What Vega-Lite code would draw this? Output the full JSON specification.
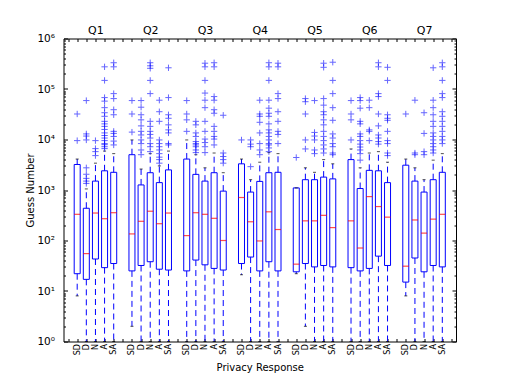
{
  "$schema": "https://vega.github.io/schema/vega-lite/v6.json",
  "width": 392.5,
  "height": 303,
  "autosize": {"type": "none"},
  "padding": {"left": 63.5, "top": 38.5, "right": 50, "bottom": 38.5},
  "config": {
    "font": "DejaVu Sans",
    "view": {"stroke": "#000000", "strokeWidth": 1},
    "axis": {"domain": false, "grid": false, "tickColor": "#000000", "labelColor": "#000000", "titleColor": "#000000", "titleFontWeight": "normal", "labelFont": "DejaVu Sans", "titleFont": "DejaVu Sans", "labelOverlap": false, "tickWidth": 1}
  },
  "datasets": {
    "boxes": [
      {"k": "Q1|SD", "lo": 8, "q1": 22, "med": 330, "q3": 3200, "hi": 4100},
      {"k": "Q1|D", "lo": 1, "q1": 17, "med": 55, "q3": 435, "hi": 1050},
      {"k": "Q1|N", "lo": 1, "q1": 43, "med": 350, "q3": 1500, "hi": 3400},
      {"k": "Q1|A", "lo": 1, "q1": 29, "med": 270, "q3": 2400, "hi": 5900},
      {"k": "Q1|SA", "lo": 1, "q1": 35, "med": 355, "q3": 2240, "hi": 5250},
      {"k": "Q2|SD", "lo": 2, "q1": 25, "med": 135, "q3": 5000, "hi": 9800},
      {"k": "Q2|D", "lo": 1, "q1": 32, "med": 240, "q3": 1260, "hi": 2600},
      {"k": "Q2|N", "lo": 1, "q1": 38, "med": 380, "q3": 2200, "hi": 5250},
      {"k": "Q2|A", "lo": 1, "q1": 27, "med": 215, "q3": 1400, "hi": 3000},
      {"k": "Q2|SA", "lo": 1, "q1": 26, "med": 350, "q3": 2500, "hi": 5900},
      {"k": "Q3|SD", "lo": 1, "q1": 25, "med": 125, "q3": 4100, "hi": 9800},
      {"k": "Q3|D", "lo": 1, "q1": 41, "med": 355, "q3": 2040, "hi": 5000},
      {"k": "Q3|N", "lo": 1, "q1": 33, "med": 330, "q3": 1500, "hi": 2750},
      {"k": "Q3|A", "lo": 1, "q1": 28, "med": 275, "q3": 2200, "hi": 5400},
      {"k": "Q3|SA", "lo": 1, "q1": 26, "med": 100, "q3": 950, "hi": 2200},
      {"k": "Q4|SD", "lo": 21, "q1": 35, "med": 710, "q3": 3300, "hi": 4100},
      {"k": "Q4|D", "lo": 1, "q1": 47, "med": 235, "q3": 910, "hi": 1600},
      {"k": "Q4|N", "lo": 1, "q1": 25, "med": 98, "q3": 1480, "hi": 3550},
      {"k": "Q4|A", "lo": 1, "q1": 38, "med": 370, "q3": 2200, "hi": 5500},
      {"k": "Q4|SA", "lo": 1, "q1": 25, "med": 165, "q3": 2240, "hi": 5250},
      {"k": "Q5|SD", "lo": 22, "q1": 24, "med": 34, "q3": 1100, "hi": 1100},
      {"k": "Q5|D", "lo": 2, "q1": 35, "med": 245, "q3": 1600, "hi": 2750},
      {"k": "Q5|N", "lo": 1, "q1": 30, "med": 245, "q3": 1600, "hi": 2240},
      {"k": "Q5|A", "lo": 1, "q1": 32, "med": 315, "q3": 1800, "hi": 4000},
      {"k": "Q5|SA", "lo": 1, "q1": 30, "med": 180, "q3": 1660, "hi": 3300},
      {"k": "Q6|SD", "lo": 1, "q1": 29, "med": 245, "q3": 4000, "hi": 6500},
      {"k": "Q6|D", "lo": 1, "q1": 25, "med": 71, "q3": 1070, "hi": 2750},
      {"k": "Q6|N", "lo": 1, "q1": 28, "med": 740, "q3": 2450, "hi": 5400},
      {"k": "Q6|A", "lo": 1, "q1": 49, "med": 470, "q3": 2400, "hi": 5750},
      {"k": "Q6|SA", "lo": 1, "q1": 32, "med": 290, "q3": 1400, "hi": 3550},
      {"k": "Q7|SD", "lo": 8, "q1": 15, "med": 31, "q3": 3100, "hi": 4100},
      {"k": "Q7|D", "lo": 1, "q1": 45, "med": 255, "q3": 1500, "hi": 2750},
      {"k": "Q7|N", "lo": 1, "q1": 24, "med": 140, "q3": 910, "hi": 1600},
      {"k": "Q7|A", "lo": 1, "q1": 32, "med": 265, "q3": 1600, "hi": 3900},
      {"k": "Q7|SA", "lo": 1, "q1": 30, "med": 330, "q3": 2240, "hi": 5250}
    ],
    "out": [
      {"k": "Q1|SD", "v": 32000}, {"k": "Q1|SD", "v": 9500},
      {"k": "Q1|D", "v": 59000}, {"k": "Q1|D", "v": 12900}, {"k": "Q1|D", "v": 11700}, {"k": "Q1|D", "v": 9800}, {"k": "Q1|D", "v": 2750}, {"k": "Q1|D", "v": 2050}, {"k": "Q1|D", "v": 1700}, {"k": "Q1|D", "v": 1500}, {"k": "Q1|D", "v": 1350},
      {"k": "Q1|N", "v": 9500}, {"k": "Q1|N", "v": 6600}, {"k": "Q1|N", "v": 5750}, {"k": "Q1|N", "v": 4800},
      {"k": "Q1|A", "v": 275000}, {"k": "Q1|A", "v": 148000}, {"k": "Q1|A", "v": 67600}, {"k": "Q1|A", "v": 57500}, {"k": "Q1|A", "v": 42700}, {"k": "Q1|A", "v": 33900}, {"k": "Q1|A", "v": 28800}, {"k": "Q1|A", "v": 22900}, {"k": "Q1|A", "v": 20400}, {"k": "Q1|A", "v": 18200}, {"k": "Q1|A", "v": 15800}, {"k": "Q1|A", "v": 13500}, {"k": "Q1|A", "v": 12000}, {"k": "Q1|A", "v": 10700}, {"k": "Q1|A", "v": 9500}, {"k": "Q1|A", "v": 8300}, {"k": "Q1|A", "v": 7900}, {"k": "Q1|A", "v": 7200}, {"k": "Q1|A", "v": 6600},
      {"k": "Q1|SA", "v": 331000}, {"k": "Q1|SA", "v": 275000}, {"k": "Q1|SA", "v": 81000}, {"k": "Q1|SA", "v": 64600}, {"k": "Q1|SA", "v": 38900}, {"k": "Q1|SA", "v": 30900}, {"k": "Q1|SA", "v": 14500}, {"k": "Q1|SA", "v": 13200}, {"k": "Q1|SA", "v": 11500}, {"k": "Q1|SA", "v": 9300}, {"k": "Q1|SA", "v": 7800},
      {"k": "Q2|SD", "v": 59000}, {"k": "Q2|SD", "v": 32000}, {"k": "Q2|SD", "v": 14000},
      {"k": "Q2|D", "v": 59000}, {"k": "Q2|D", "v": 43600}, {"k": "Q2|D", "v": 30900}, {"k": "Q2|D", "v": 24500}, {"k": "Q2|D", "v": 18600}, {"k": "Q2|D", "v": 14500}, {"k": "Q2|D", "v": 12300}, {"k": "Q2|D", "v": 9800}, {"k": "Q2|D", "v": 8300}, {"k": "Q2|D", "v": 6200}, {"k": "Q2|D", "v": 5000},
      {"k": "Q2|N", "v": 331000}, {"k": "Q2|N", "v": 288000}, {"k": "Q2|N", "v": 257000}, {"k": "Q2|N", "v": 148000}, {"k": "Q2|N", "v": 81000}, {"k": "Q2|N", "v": 22900}, {"k": "Q2|N", "v": 18200}, {"k": "Q2|N", "v": 14500}, {"k": "Q2|N", "v": 12600}, {"k": "Q2|N", "v": 10700}, {"k": "Q2|N", "v": 8300}, {"k": "Q2|N", "v": 7200}, {"k": "Q2|N", "v": 5750},
      {"k": "Q2|A", "v": 60000}, {"k": "Q2|A", "v": 35500}, {"k": "Q2|A", "v": 22900}, {"k": "Q2|A", "v": 9800}, {"k": "Q2|A", "v": 8300}, {"k": "Q2|A", "v": 7200}, {"k": "Q2|A", "v": 6200}, {"k": "Q2|A", "v": 5250}, {"k": "Q2|A", "v": 4470}, {"k": "Q2|A", "v": 4000}, {"k": "Q2|A", "v": 3400},
      {"k": "Q2|SA", "v": 263000}, {"k": "Q2|SA", "v": 67600}, {"k": "Q2|SA", "v": 30900}, {"k": "Q2|SA", "v": 26300}, {"k": "Q2|SA", "v": 19500}, {"k": "Q2|SA", "v": 15500}, {"k": "Q2|SA", "v": 13500}, {"k": "Q2|SA", "v": 8300}, {"k": "Q2|SA", "v": 7800},
      {"k": "Q3|SD", "v": 59000}, {"k": "Q3|SD", "v": 32000}, {"k": "Q3|SD", "v": 24500}, {"k": "Q3|SD", "v": 14500},
      {"k": "Q3|D", "v": 22900}, {"k": "Q3|D", "v": 19500}, {"k": "Q3|D", "v": 13500}, {"k": "Q3|D", "v": 11500}, {"k": "Q3|D", "v": 9100}, {"k": "Q3|D", "v": 8300}, {"k": "Q3|D", "v": 7800}, {"k": "Q3|D", "v": 7200}, {"k": "Q3|D", "v": 6200}, {"k": "Q3|D", "v": 5500},
      {"k": "Q3|N", "v": 324000}, {"k": "Q3|N", "v": 275000}, {"k": "Q3|N", "v": 148000}, {"k": "Q3|N", "v": 83000}, {"k": "Q3|N", "v": 60000}, {"k": "Q3|N", "v": 42700}, {"k": "Q3|N", "v": 22900}, {"k": "Q3|N", "v": 14500}, {"k": "Q3|N", "v": 10200}, {"k": "Q3|N", "v": 8700}, {"k": "Q3|N", "v": 7200}, {"k": "Q3|N", "v": 5500},
      {"k": "Q3|A", "v": 331000}, {"k": "Q3|A", "v": 275000}, {"k": "Q3|A", "v": 70800}, {"k": "Q3|A", "v": 60000}, {"k": "Q3|A", "v": 38900}, {"k": "Q3|A", "v": 33100}, {"k": "Q3|A", "v": 18200}, {"k": "Q3|A", "v": 14500}, {"k": "Q3|A", "v": 11500}, {"k": "Q3|A", "v": 10200}, {"k": "Q3|A", "v": 7800},
      {"k": "Q3|SA", "v": 30200}, {"k": "Q3|SA", "v": 5400}, {"k": "Q3|SA", "v": 4600}, {"k": "Q3|SA", "v": 4000}, {"k": "Q3|SA", "v": 3400},
      {"k": "Q4|SD", "v": 9800},
      {"k": "Q4|D", "v": 9800}, {"k": "Q4|D", "v": 8100}, {"k": "Q4|D", "v": 7200}, {"k": "Q4|D", "v": 2900},
      {"k": "Q4|N", "v": 60000}, {"k": "Q4|N", "v": 32000}, {"k": "Q4|N", "v": 28800}, {"k": "Q4|N", "v": 21900}, {"k": "Q4|N", "v": 13500}, {"k": "Q4|N", "v": 8300}, {"k": "Q4|N", "v": 6200}, {"k": "Q4|N", "v": 5000},
      {"k": "Q4|A", "v": 331000}, {"k": "Q4|A", "v": 275000}, {"k": "Q4|A", "v": 148000}, {"k": "Q4|A", "v": 60000}, {"k": "Q4|A", "v": 41700}, {"k": "Q4|A", "v": 33100}, {"k": "Q4|A", "v": 28800}, {"k": "Q4|A", "v": 20400}, {"k": "Q4|A", "v": 15500}, {"k": "Q4|A", "v": 13500}, {"k": "Q4|A", "v": 11500}, {"k": "Q4|A", "v": 9800}, {"k": "Q4|A", "v": 8300}, {"k": "Q4|A", "v": 7800}, {"k": "Q4|A", "v": 6800}, {"k": "Q4|A", "v": 5750},
      {"k": "Q4|SA", "v": 324000}, {"k": "Q4|SA", "v": 275000}, {"k": "Q4|SA", "v": 81000}, {"k": "Q4|SA", "v": 64600}, {"k": "Q4|SA", "v": 35500}, {"k": "Q4|SA", "v": 22900}, {"k": "Q4|SA", "v": 14500}, {"k": "Q4|SA", "v": 12600}, {"k": "Q4|SA", "v": 8300},
      {"k": "Q5|SD", "v": 4400},
      {"k": "Q5|D", "v": 64600}, {"k": "Q5|D", "v": 56000}, {"k": "Q5|D", "v": 32000}, {"k": "Q5|D", "v": 9800}, {"k": "Q5|D", "v": 6500},
      {"k": "Q5|N", "v": 59000}, {"k": "Q5|N", "v": 13800}, {"k": "Q5|N", "v": 11700}, {"k": "Q5|N", "v": 9800}, {"k": "Q5|N", "v": 6200}, {"k": "Q5|N", "v": 5250},
      {"k": "Q5|A", "v": 324000}, {"k": "Q5|A", "v": 269000}, {"k": "Q5|A", "v": 64600}, {"k": "Q5|A", "v": 47900}, {"k": "Q5|A", "v": 35500}, {"k": "Q5|A", "v": 30900}, {"k": "Q5|A", "v": 24500}, {"k": "Q5|A", "v": 19500}, {"k": "Q5|A", "v": 14500}, {"k": "Q5|A", "v": 11500}, {"k": "Q5|A", "v": 9500}, {"k": "Q5|A", "v": 7800}, {"k": "Q5|A", "v": 6500}, {"k": "Q5|A", "v": 5400},
      {"k": "Q5|SA", "v": 339000}, {"k": "Q5|SA", "v": 148000}, {"k": "Q5|SA", "v": 81000}, {"k": "Q5|SA", "v": 42700}, {"k": "Q5|SA", "v": 24000}, {"k": "Q5|SA", "v": 12900}, {"k": "Q5|SA", "v": 10700}, {"k": "Q5|SA", "v": 8300}, {"k": "Q5|SA", "v": 7200}, {"k": "Q5|SA", "v": 5400}, {"k": "Q5|SA", "v": 5000},
      {"k": "Q6|SD", "v": 59000}, {"k": "Q6|SD", "v": 32000}, {"k": "Q6|SD", "v": 24500}, {"k": "Q6|SD", "v": 9800},
      {"k": "Q6|D", "v": 67600}, {"k": "Q6|D", "v": 59000}, {"k": "Q6|D", "v": 41700}, {"k": "Q6|D", "v": 22900}, {"k": "Q6|D", "v": 20400}, {"k": "Q6|D", "v": 12900}, {"k": "Q6|D", "v": 11500}, {"k": "Q6|D", "v": 9500}, {"k": "Q6|D", "v": 8100}, {"k": "Q6|D", "v": 7100}, {"k": "Q6|D", "v": 6200}, {"k": "Q6|D", "v": 5250}, {"k": "Q6|D", "v": 3900},
      {"k": "Q6|N", "v": 60000}, {"k": "Q6|N", "v": 42700}, {"k": "Q6|N", "v": 15500}, {"k": "Q6|N", "v": 14500}, {"k": "Q6|N", "v": 9500},
      {"k": "Q6|A", "v": 331000}, {"k": "Q6|A", "v": 275000}, {"k": "Q6|A", "v": 81000}, {"k": "Q6|A", "v": 70800}, {"k": "Q6|A", "v": 32000}, {"k": "Q6|A", "v": 18600}, {"k": "Q6|A", "v": 12300}, {"k": "Q6|A", "v": 10700}, {"k": "Q6|A", "v": 9100}, {"k": "Q6|A", "v": 8100},
      {"k": "Q6|SA", "v": 269000}, {"k": "Q6|SA", "v": 148000}, {"k": "Q6|SA", "v": 30900}, {"k": "Q6|SA", "v": 26300}, {"k": "Q6|SA", "v": 24000}, {"k": "Q6|SA", "v": 14500}, {"k": "Q6|SA", "v": 9500}, {"k": "Q6|SA", "v": 8300}, {"k": "Q6|SA", "v": 5400}, {"k": "Q6|SA", "v": 4800},
      {"k": "Q7|SD", "v": 32000},
      {"k": "Q7|D", "v": 60000}, {"k": "Q7|D", "v": 5400}, {"k": "Q7|D", "v": 5000},
      {"k": "Q7|N", "v": 33900}, {"k": "Q7|N", "v": 13200}, {"k": "Q7|N", "v": 5750}, {"k": "Q7|N", "v": 5000},
      {"k": "Q7|A", "v": 263000}, {"k": "Q7|A", "v": 60000}, {"k": "Q7|A", "v": 42700}, {"k": "Q7|A", "v": 30900}, {"k": "Q7|A", "v": 22900}, {"k": "Q7|A", "v": 18200}, {"k": "Q7|A", "v": 13500}, {"k": "Q7|A", "v": 11500}, {"k": "Q7|A", "v": 9800}, {"k": "Q7|A", "v": 8300}, {"k": "Q7|A", "v": 7200}, {"k": "Q7|A", "v": 6200}, {"k": "Q7|A", "v": 5400},
      {"k": "Q7|SA", "v": 331000}, {"k": "Q7|SA", "v": 275000}, {"k": "Q7|SA", "v": 148000}, {"k": "Q7|SA", "v": 81000}, {"k": "Q7|SA", "v": 67600}, {"k": "Q7|SA", "v": 35500}, {"k": "Q7|SA", "v": 28800}, {"k": "Q7|SA", "v": 22900}, {"k": "Q7|SA", "v": 18200}, {"k": "Q7|SA", "v": 14500}, {"k": "Q7|SA", "v": 11500}, {"k": "Q7|SA", "v": 9800}, {"k": "Q7|SA", "v": 8300}
    ]
  },
  "encoding": {
    "x": {"field": "k", "type": "nominal", "axis": null,
      "scale": {"type": "point", "padding": 0.5, "domain": ["g0", "Q1|SD", "Q1|D", "Q1|N", "Q1|A", "Q1|SA", "g1", "Q2|SD", "Q2|D", "Q2|N", "Q2|A", "Q2|SA", "g2", "Q3|SD", "Q3|D", "Q3|N", "Q3|A", "Q3|SA", "g3", "Q4|SD", "Q4|D", "Q4|N", "Q4|A", "Q4|SA", "g4", "Q5|SD", "Q5|D", "Q5|N", "Q5|A", "Q5|SA", "g5", "Q6|SD", "Q6|D", "Q6|N", "Q6|A", "Q6|SA", "g6", "Q7|SD", "Q7|D", "Q7|N", "Q7|A", "Q7|SA", "g7"]}}
  },
  "layer": [
    {
      "data": {"name": "boxes"},
      "mark": {"type": "bar", "width": 6, "fill": "#ffffff", "fillOpacity": 0, "stroke": "#0000ff", "strokeWidth": 1},
      "encoding": {
        "x": {"field": "k", "type": "nominal",
          "scale": {"type": "point", "padding": 0.5, "domain": ["g0", "Q1|SD", "Q1|D", "Q1|N", "Q1|A", "Q1|SA", "g1", "Q2|SD", "Q2|D", "Q2|N", "Q2|A", "Q2|SA", "g2", "Q3|SD", "Q3|D", "Q3|N", "Q3|A", "Q3|SA", "g3", "Q4|SD", "Q4|D", "Q4|N", "Q4|A", "Q4|SA", "g4", "Q5|SD", "Q5|D", "Q5|N", "Q5|A", "Q5|SA", "g5", "Q6|SD", "Q6|D", "Q6|N", "Q6|A", "Q6|SA", "g6", "Q7|SD", "Q7|D", "Q7|N", "Q7|A", "Q7|SA", "g7"]},
          "axis": {"orient": "bottom", "tickSize": -3, "labelPadding": 5, "labelAngle": 270, "labelFontSize": 8, "labelExpr": "indexof(datum.value, '|') > 0 ? split(datum.value, '|')[1] : ''", "title": "Privacy Response", "titleFontSize": 10, "titleY": 25.5, "titleBaseline": "middle"}},
        "y": {"field": "q1", "type": "quantitative", "scale": {"type": "log", "domain": [1, 1000000], "nice": false},
          "axis": {"orient": "left", "values": [1, 10, 100, 1000, 10000, 100000, 1000000], "tickSize": -4, "labelPadding": 13, "labelFontSize": 10.5, "labelExpr": "'10' + ['⁰','¹','²','³','⁴','⁵','⁶'][round(log(datum.value) / LN10)]", "title": "Guess Number", "titleFontSize": 10, "titleX": -33.5, "titleY": 151.5, "titleBaseline": "middle"}},
        "y2": {"field": "q3"}
      }
    },
    {
      "data": {"name": "boxes"},
      "mark": {"type": "rule", "stroke": "#0000ff", "strokeWidth": 1, "strokeDash": [6, 4]},
      "encoding": {
        "x": {"field": "k", "type": "nominal",
          "scale": {"type": "point", "padding": 0.5, "domain": ["g0", "Q1|SD", "Q1|D", "Q1|N", "Q1|A", "Q1|SA", "g1", "Q2|SD", "Q2|D", "Q2|N", "Q2|A", "Q2|SA", "g2", "Q3|SD", "Q3|D", "Q3|N", "Q3|A", "Q3|SA", "g3", "Q4|SD", "Q4|D", "Q4|N", "Q4|A", "Q4|SA", "g4", "Q5|SD", "Q5|D", "Q5|N", "Q5|A", "Q5|SA", "g5", "Q6|SD", "Q6|D", "Q6|N", "Q6|A", "Q6|SA", "g6", "Q7|SD", "Q7|D", "Q7|N", "Q7|A", "Q7|SA", "g7"]},
          "axis": {"orient": "top", "tickSize": -3, "labelPadding": 6, "labelAngle": 0, "labelFontSize": 11, "labelExpr": "indexof(datum.value, '|N') > 0 ? split(datum.value, '|')[0] : ''", "title": null}},
        "y": {"field": "q3", "type": "quantitative", "scale": {"type": "log", "domain": [1, 1000000], "nice": false},
          "axis": {"orient": "left", "values": [2, 3, 4, 5, 6, 7, 8, 9, 20, 30, 40, 50, 60, 70, 80, 90, 200, 300, 400, 500, 600, 700, 800, 900, 2000, 3000, 4000, 5000, 6000, 7000, 8000, 9000, 20000, 30000, 40000, 50000, 60000, 70000, 80000, 90000, 200000, 300000, 400000, 500000, 600000, 700000, 800000, 900000], "tickSize": -2, "labels": false, "title": null}},
        "y2": {"field": "hi"}
      }
    },
    {
      "data": {"name": "boxes"},
      "mark": {"type": "rule", "stroke": "#0000ff", "strokeWidth": 1, "strokeDash": [6, 4]},
      "encoding": {
        "y": {"field": "q1", "type": "quantitative", "scale": {"type": "log", "domain": [1, 1000000], "nice": false},
          "axis": {"orient": "right", "values": [1, 10, 100, 1000, 10000, 100000, 1000000], "tickSize": -4, "labels": false, "title": null}},
        "y2": {"field": "lo"}
      }
    },
    {
      "data": {"name": "boxes"},
      "mark": {"type": "tick", "color": "#000000", "size": 3, "thickness": 1},
      "encoding": {
        "y": {"field": "hi", "type": "quantitative", "scale": {"type": "log", "domain": [1, 1000000], "nice": false},
          "axis": {"orient": "right", "values": [2, 3, 4, 5, 6, 7, 8, 9, 20, 30, 40, 50, 60, 70, 80, 90, 200, 300, 400, 500, 600, 700, 800, 900, 2000, 3000, 4000, 5000, 6000, 7000, 8000, 9000, 20000, 30000, 40000, 50000, 60000, 70000, 80000, 90000, 200000, 300000, 400000, 500000, 600000, 700000, 800000, 900000], "tickSize": -2, "labels": false, "title": null}}
      }
    },
    {
      "data": {"name": "boxes"},
      "mark": {"type": "tick", "color": "#000000", "size": 3, "thickness": 1},
      "encoding": {
        "y": {"field": "lo", "type": "quantitative", "scale": {"type": "log", "domain": [1, 1000000], "nice": false}, "axis": null}
      }
    },
    {
      "data": {"name": "boxes"},
      "mark": {"type": "tick", "color": "#ff0000", "size": 6, "thickness": 1.2},
      "encoding": {
        "y": {"field": "med", "type": "quantitative", "scale": {"type": "log", "domain": [1, 1000000], "nice": false}, "axis": null}
      }
    },
    {
      "data": {"name": "out"},
      "mark": {"type": "point", "shape": "M-1,0L1,0M0,-1L0,1", "filled": false, "size": 40, "stroke": "#0000ff", "strokeWidth": 1, "opacity": 0.6},
      "encoding": {
        "y": {"field": "v", "type": "quantitative", "scale": {"type": "log", "domain": [1, 1000000], "nice": false}, "axis": null}
      }
    }
  ],
  "resolve": {"axis": {"x": "independent", "y": "independent"}}
}
